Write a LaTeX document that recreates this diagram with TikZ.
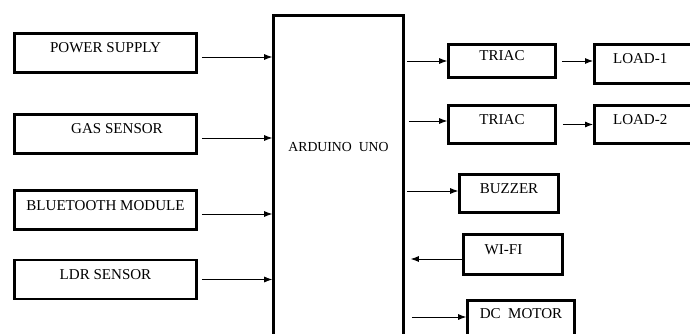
\documentclass[tikz,border=0pt]{standalone}
\usepackage{fontspec}
\setmainfont{Liberation Serif}
\usetikzlibrary{arrows.meta}
\tikzset{
	blk/.style={draw,line width=1.8pt,inner sep=0pt,font=\fontsize{10.7}{12}\selectfont},
	inbox/.style={blk,minimum width=4.55cm,text height=0.4875cm,text depth=0.4875cm},
	loadbox/.style={blk,anchor=west,text width=3cm,align=left,inner xsep=0.47cm},
	conn/.style={line width=0.6pt,-{Latex[length=2mm,width=1.5mm]}}
}

\begin{document}
\begin{tikzpicture}[x=0.025cm,y=-0.025cm]
		\useasboundingbox (0,0) rectangle (690,334);
		\clip (0,0) rectangle (690,334);
		\node[inbox] (pwr) at (105.5,53)  {POWER SUPPLY};
		\node[inbox] (gas) at (105.5,134) {\hspace*{0.575cm}GAS SENSOR};
		\node[inbox] (bt)  at (105.5,210) {BLUETOOTH MODULE};
		\node[inbox] (ldr) at (105.5,279.5) {LDR SENSOR};
		\node[blk,anchor=north,minimum width=3.25cm,text height=3.41cm,text depth=6cm,
			font=\fontsize{9.8}{12}\selectfont] (ard) at (338.5,14) {ARDUINO\ \ UNO};
		\node[blk,minimum width=2.675cm,text height=0.4125cm,text depth=0.4125cm] (tri1) at (502,61) {TRIAC};
		\node[blk,minimum width=2.675cm,text height=0.475cm,text depth=0.475cm] (tri2) at (502,124.5) {TRIAC};
		\node[loadbox,text height=0.4875cm,text depth=0.4875cm] (load1) at (593,64) {LOAD-1};
		\node[loadbox,text height=0.475cm,text depth=0.475cm] (load2) at (593,124.5) {LOAD-2};
		\node[blk,minimum width=2.475cm,text height=0.475cm,text depth=0.475cm] (buz) at (509,193.5) {BUZZER};
		\node[blk,minimum width=2.475cm,text height=0.5cm,text depth=0.5cm] (wifi) at (513,254.5) {WI-FI\hspace*{0.475cm}};
		\node[blk,anchor=north,minimum width=2.675cm,text height=0.4625cm,text depth=0.6cm] (dc) at (521,299) {DC\ \ MOTOR};
		\foreach \n/\dy in {pwr/-0.1,gas/-0.1,bt/-0.1,ldr/0}
			\draw[conn] ([xshift=0.1cm,yshift=\dy cm]\n.east) -- ([yshift=\dy cm]\n.east -| ard.west);
		\draw[conn] ([xshift=0.05cm]tri1.west -| ard.east) -- (tri1.west);
		\draw[conn] ([xshift=0.1cm,yshift=0.0875cm]tri2.west -| ard.east) -- ([yshift=0.0875cm]tri2.west);
		\draw[conn] ([xshift=0.125cm]tri1.east) -- (tri1.east -| load1.west);
		\draw[conn] ([xshift=0.15cm]tri2.east) -- (tri2.east -| load2.west);
		\draw[conn] ([xshift=0.05cm,yshift=0.0625cm]buz.west -| ard.east) -- ([yshift=0.0625cm]buz.west);
		\draw[conn] ([yshift=-0.1125cm]wifi.west) -- ([xshift=0.15cm,yshift=-0.1125cm]wifi.west -| ard.east);
		\draw[conn] ([xshift=0.175cm,yshift=-0.45cm]dc.north west -| ard.east) -- ([yshift=-0.45cm]dc.north west);
	\end{tikzpicture}
\end{document}
